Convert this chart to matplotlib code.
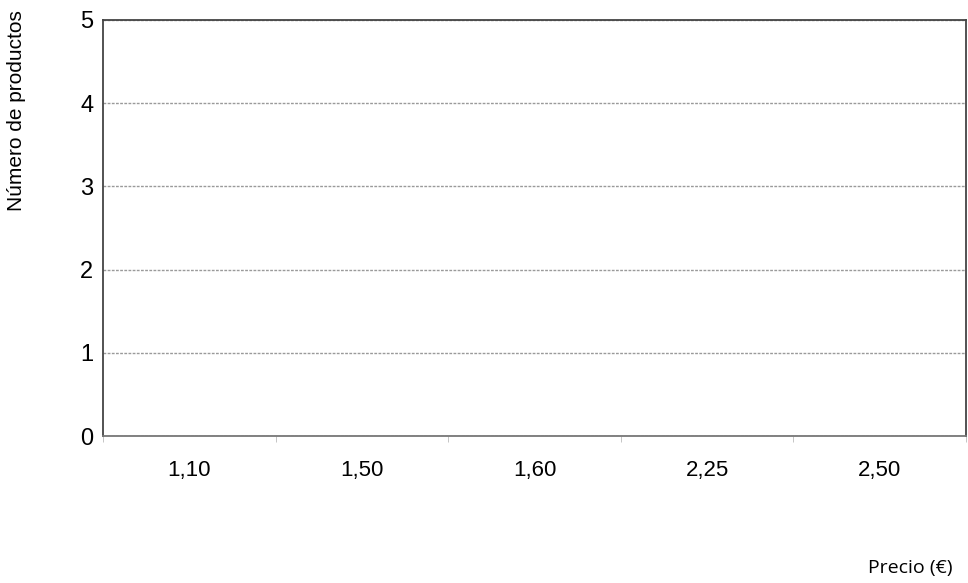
import matplotlib
matplotlib.use("Agg")
import matplotlib.pyplot as plt
import numpy as np

# precios (categorias) y numero de productos -- la plantilla esta vacia
precios = ["1,10", "1,50", "1,60", "2,25", "2,50"]
num_productos = [0, 0, 0, 0, 0]
y_ticks = [0, 1, 2, 3, 4, 5]

plt.rcParams['font.family'] = ['Liberation Sans', 'DejaVu Sans']

fig = plt.figure(figsize=(9.68, 5.83), dpi=100)
ax = fig.add_axes([0.1064, 0.2521, 0.8916, 0.7136])

x = np.arange(len(precios))
ax.bar(x, num_productos, width=0.6, color="#777777")

ax.set_xlim(-0.5, len(precios) - 0.5)
ax.set_ylim(0, 5)
ax.set_yticks(y_ticks)
ax.set_yticklabels([str(v) for v in y_ticks], fontsize=17)

# etiquetas en el centro, marcas entre categorias
ax.set_xticks(x)
ax.set_xticklabels(precios, fontsize=16)
ax.set_xticks(np.arange(len(precios) + 1) - 0.5, minor=True)
ax.tick_params(axis="x", which="major", length=0, pad=17)
ax.tick_params(axis="x", which="minor", length=4, color="#bbbbbb", direction="out")
ax.tick_params(axis="y", length=0, pad=7)

ax.grid(axis="y", color="#9a9a9a", linestyle=(0, (2, 1)), linewidth=1.0)
ax.set_axisbelow(True)
for s in ax.spines.values():
    s.set_color("#444444")
    s.set_linewidth(1.3)
ax.spines["bottom"].set_color("#777777")

fig.text(0.017, 0.81, "Número de productos", rotation=90, ha="center", va="center",
         fontsize=15, family=["Liberation Sans", "DejaVu Sans"])
fig.text(0.94, 0.025, "Precio (€)", ha="center", va="center",
         fontsize=14, family=["Open Sans", "DejaVu Sans"])

fig.savefig("out.png", dpi=100)
